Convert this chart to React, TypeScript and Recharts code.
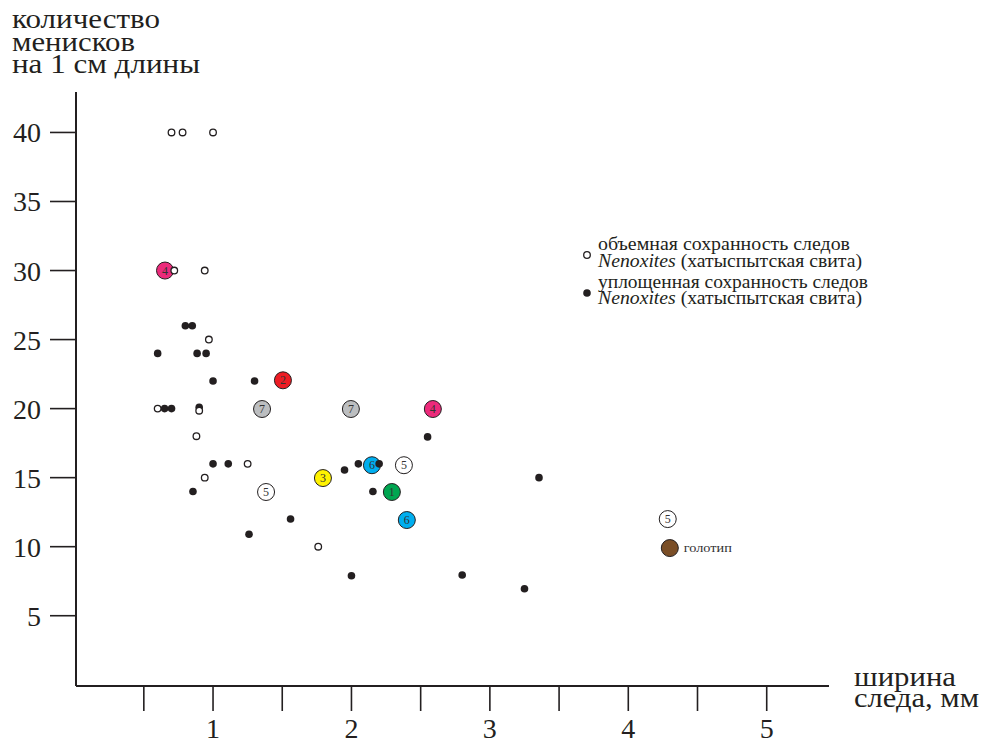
import { ScatterChart, Scatter, XAxis, YAxis, Customized } from 'recharts';

const INK = '#231f20';
const SERIF = "'Liberation Serif', 'DejaVu Serif', serif";
const serif = { fontFamily: SERIF };

// axis ticks
const xTicks = [0.5, 1, 1.5, 2, 2.5, 3, 3.5, 4, 4.5, 5];
const yTicks = [5, 10, 15, 20, 25, 30, 35, 40];

// объемная сохранность (open circles)
const openPoints = [
  { x: 0.7, y: 40 }, { x: 0.78, y: 40 }, { x: 1.0, y: 40 },
  { x: 0.72, y: 30 }, { x: 0.94, y: 30 }, { x: 0.97, y: 25 },
  { x: 0.6, y: 20 }, { x: 0.9, y: 19.85 }, { x: 0.88, y: 18 },
  { x: 0.94, y: 15 }, { x: 1.25, y: 16 }, { x: 1.76, y: 10 },
];

// уплощенная сохранность (filled dots)
const flatPoints = [
  { x: 0.6, y: 24 }, { x: 0.8, y: 26 }, { x: 0.85, y: 26 },
  { x: 0.885, y: 24 }, { x: 0.95, y: 24 }, { x: 1.0, y: 22 },
  { x: 1.3, y: 22 }, { x: 0.65, y: 20 }, { x: 0.7, y: 20 },
  { x: 0.9, y: 20.1 }, { x: 1.0, y: 16 }, { x: 1.11, y: 16 },
  { x: 0.855, y: 14 }, { x: 1.56, y: 12 }, { x: 1.26, y: 10.9 },
  { x: 2.0, y: 7.9 }, { x: 1.95, y: 15.55 }, { x: 2.05, y: 16 },
  { x: 2.2, y: 16 }, { x: 2.155, y: 14 }, { x: 2.55, y: 17.95 },
  { x: 3.355, y: 15 }, { x: 3.25, y: 6.95 }, { x: 2.8, y: 7.95 },
];

// numbered samples
const markedPoints = [
  { x: 0.653, y: 30, n: 4 }, { x: 1.505, y: 22.05, n: 2 },
  { x: 1.354, y: 19.97, n: 7 }, { x: 1.996, y: 19.97, n: 7 },
  { x: 2.588, y: 19.97, n: 4 }, { x: 2.148, y: 15.9, n: 6 },
  { x: 2.379, y: 15.9, n: 5 }, { x: 1.794, y: 14.97, n: 3 },
  { x: 1.383, y: 13.96, n: 5 }, { x: 2.292, y: 13.96, n: 1 },
  { x: 2.4, y: 11.93, n: 6 }, { x: 4.285, y: 12, n: 5 },
];

const holotype = [{ x: 4.3, y: 9.9 }];

const NUM_COLORS: Record<number, string> = {
  1: '#00a651',
  2: '#ed1c24',
  3: '#fff200',
  4: '#ec2a7b',
  5: '#ffffff',
  6: '#00aeef',
  7: '#bcbec0',
};

const OpenDot = ({ cx, cy }: any) => (
  <circle cx={cx} cy={cy} r={3.3} fill="#fff" stroke={INK} strokeWidth={1.3} />
);

const FlatDot = ({ cx, cy }: any) => <circle cx={cx} cy={cy} r={3.8} fill={INK} />;

const NumberDot = ({ cx, cy, payload }: any) => (
  <g>
    <circle cx={cx} cy={cy} r={8.5} fill={NUM_COLORS[payload.n]} stroke={INK} strokeWidth={1} />
    <text x={cx} y={cy + 4} textAnchor="middle" style={serif} fontSize={12} fill="#333">
      {payload.n}
    </text>
  </g>
);

const HoloDot = ({ cx, cy }: any) => (
  <g>
    <circle cx={cx} cy={cy} r={8.5} fill="#7a4e26" stroke={INK} strokeWidth={1} />
    <text x={cx + 14} y={cy + 4} style={serif} fontSize={12.5} fill="#333"
      textLength={48} lengthAdjust="spacingAndGlyphs">
      голотип
    </text>
  </g>
);

const XTick = ({ x, y, payload }: any) =>
  Number.isInteger(payload.value) ? (
    <text x={x} y={y + 27} textAnchor="middle" style={serif} fontSize={28} fill={INK}>
      {payload.value}
    </text>
  ) : null;

const YTick = ({ x, y, payload }: any) => (
  <text x={x} y={y + 10} textAnchor="end" style={serif} fontSize={28} fill={INK}>
    {payload.value}
  </text>
);

const fit = (w: number) => ({ textLength: w, lengthAdjust: 'spacingAndGlyphs' as const });

const Annotations = () => (
  <g style={serif} fill={INK}>
    <text x={12} y={28} fontSize={28} {...fit(148)}>количество</text>
    <text x={12} y={51} fontSize={28} {...fit(123)}>менисков</text>
    <text x={12} y={73} fontSize={28} {...fit(188)}>на 1 см длины</text>

    <text x={854} y={686} fontSize={27} {...fit(102)}>ширина</text>
    <text x={854} y={707} fontSize={27} {...fit(125)}>следа, мм</text>

    <circle cx={587} cy={255} r={3.3} fill="#fff" stroke={INK} strokeWidth={1.3} />
    <text x={598} y={250} fontSize={18} {...fit(252)}>объемная сохранность следов</text>
    <text x={598} y={267} fontSize={18} {...fit(264)}>
      <tspan fontStyle="italic">Nenoxites</tspan> (хатыспытская свита)
    </text>
    <circle cx={587} cy={293} r={3.8} fill={INK} />
    <text x={598} y={288} fontSize={18} {...fit(270)}>уплощенная сохранность следов</text>
    <text x={598} y={304} fontSize={18} {...fit(264)}>
      <tspan fontStyle="italic">Nenoxites</tspan> (хатыспытская свита)
    </text>
  </g>
);

export default function App() {
  return (
    <div style={{ position: 'absolute', left: 0, top: 0, background: '#fff' }}>
      <ScatterChart
        width={984}
        height={740}
        margin={{ top: 92, right: 155, bottom: 0, left: 0 }}
      >
        <XAxis
          type="number"
          dataKey="x"
          domain={[0.01, 5.45]}
          ticks={xTicks}
          height={54}
          tickSize={25}
          tickMargin={0}
          axisLine={{ stroke: INK, strokeWidth: 2 }}
          tickLine={{ stroke: INK, strokeWidth: 1.6 }}
          tick={<XTick />}
          interval={0}
        />
        <YAxis
          type="number"
          dataKey="y"
          domain={[-0.09, 42.93]}
          ticks={yTicks}
          width={76}
          tickSize={26}
          tickMargin={9}
          axisLine={{ stroke: INK, strokeWidth: 2 }}
          tickLine={{ stroke: INK, strokeWidth: 1.6 }}
          tick={<YTick />}
          interval={0}
        />
        <Scatter data={markedPoints} shape={<NumberDot />} isAnimationActive={false} />
        <Scatter data={holotype} shape={<HoloDot />} isAnimationActive={false} />
        <Scatter data={flatPoints} shape={<FlatDot />} isAnimationActive={false} />
        <Scatter data={openPoints} shape={<OpenDot />} isAnimationActive={false} />
        <Customized component={<Annotations />} />
      </ScatterChart>
    </div>
  );
}
